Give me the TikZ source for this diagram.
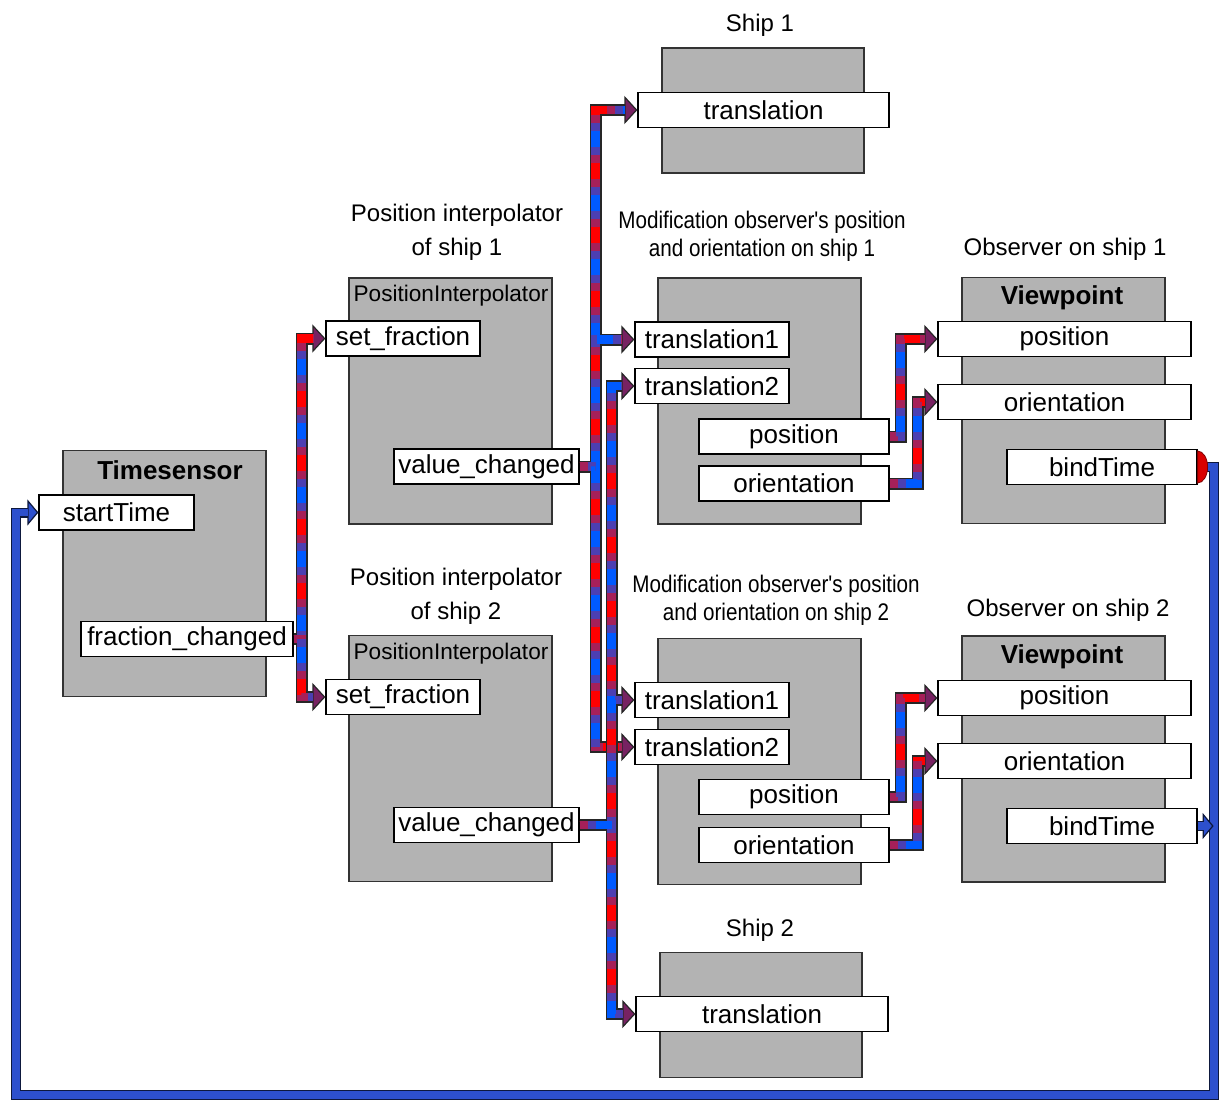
\documentclass[tikz,border=0pt]{standalone}
\usepackage{fontspec}
\setmainfont{Liberation Sans}
\newfontfamily\narrowfont[FakeStretch=0.86]{Liberation Sans}
\usetikzlibrary{arrows.meta}

\definecolor{blockgray}{RGB}{179,179,179}
\definecolor{pipered}{RGB}{255,0,0}
\definecolor{pipeblue}{RGB}{0,90,255}
\definecolor{loopblue}{RGB}{45,80,205}
\colorlet{pipemixA}{pipered!65!pipeblue}
\colorlet{pipemixB}{pipered!30!pipeblue}
\colorlet{pipetip}{pipered!55!pipeblue!85!black}

% fat red/blue pipes: all outlines first, then the striped cores
\newcommand{\flowpipes}[1]{%
  \foreach \p in {#1}{\draw[pipeedge] \p;}%
  \foreach \p in {#1}{%
    \draw[pipecore,draw=pipered] \p;
    \draw[pipecore,draw=pipemixA,dash pattern=on 24pt off 8pt] \p;
    \draw[pipecore,draw=pipemixB,dash pattern=on 16pt off 16pt,dash phase=28pt] \p;
    \draw[pipecore,draw=pipeblue,dash pattern=on 8pt off 24pt,dash phase=24pt] \p;
  }%
}

\begin{document}
\begin{tikzpicture}[x=0.5pt, y=-0.5pt,
    block/.style={draw=black!80, fill=blockgray, line width=0.6pt, inner sep=0pt, minimum width=101.5pt, minimum height=123pt},
    shipblock/.style={block, minimum width=101pt, minimum height=62.5pt},
    field/.style={draw=black, fill=white, line width=0.6pt, inner sep=0pt, minimum height=17.5pt, font={\fontsize{13}{15}\selectfont}},
    title/.style={align=center, inner sep=0pt, font={\fontsize{12}{17}\selectfont}},
    modtitle/.style={align=center, inner sep=0pt, font={\narrowfont\fontsize{12}{14}\selectfont}},
    head/.style={inner sep=0pt, font={\fontsize{11.3}{13}\selectfont}},
    boldhead/.style={inner sep=0pt, font={\bfseries\fontsize{13}{15}\selectfont}},
    pipeedge/.style={draw=black!85, line width=6pt, line join=miter, -{Triangle[length=6.5pt,width=14pt,line width=0.6pt,fill=pipetip]}},
    pipecore/.style={line width=4.4pt, line join=miter, shorten >=6pt},
    loopedge/.style={draw=black!70!loopblue, line width=5pt, line join=miter, -{Triangle[length=5.5pt,width=13pt,line width=0.6pt,fill=loopblue]}},
    loopcore/.style={draw=loopblue, line width=3.6pt, line join=miter, shorten >=5pt}
  ]
  \useasboundingbox (0,0) rectangle (1219,1102);

  %--- gray blocks
  \node[shipblock] (ship1) at (763,110.5) {};
  \node[block] (pi1) at (450.5,401) {};
  \node[block] (mod1) at (759.5,401) {};
  \node[block] (vp1) at (1063.5,400.5) {};
  \node[block] (ts) at (164.5,573.5) {};
  \node[block] (pi2) at (450.5,758.5) {};
  \node[block] (mod2) at (759.5,761.5) {};
  \node[block] (vp2) at (1063.5,759) {};
  \node[shipblock] (ship2) at (761,1015) {};

  %--- titles above the blocks
  \node[title] (ship1t) at (760,25) {Ship 1};
  \node[title] (pi1t) at (457,232) {Position interpolator\\of ship 1};
  \node[modtitle] (mod1t) at (762,236) {Modification observer's position\\and orientation on ship 1};
  \node[title] (vp1t) at (1065,249) {Observer on ship 1};
  \node[title] (pi2t) at (456,596) {Position interpolator\\of ship 2};
  \node[modtitle] (mod2t) at (776,600) {Modification observer's position\\and orientation on ship 2};
  \node[title] (vp2t) at (1068,610) {Observer on ship 2};
  \node[title] (ship2t) at (760,930) {Ship 2};

  %--- block headers
  \node[head] (pi1h) at (451,296) {PositionInterpolator};
  \node[head] (pi2h) at (451,654) {PositionInterpolator};
  \node[boldhead] (tsh) at (170,470) {Timesensor};
  \node[boldhead] (vp1h) at (1062,298) {Viewpoint};
  \node[boldhead] (vp2h) at (1062,657) {Viewpoint};

  %--- fields
  \node[field, minimum width=125.5pt] (s1tr) at (763.5,110) {translation};
  \node[field, minimum width=77pt] (sf1) at (403,338.5) {set\_fraction};
  \node[field, minimum width=92.5pt] (vc1) at (486.5,466.5) {value\_changed};
  \node[field, minimum width=77pt] (m1t1) at (712,339.5) {translation1};
  \node[field, minimum width=77pt] (m1t2) at (712,386) {translation2};
  \node[field, minimum width=95pt] (m1pos) at (794,436.5) {position};
  \node[field, minimum width=95pt] (m1ori) at (794,483.5) {orientation};
  \node[field, minimum width=126.5pt] (v1pos) at (1064.5,339) {position};
  \node[field, minimum width=126.5pt] (v1ori) at (1064.5,402) {orientation};
  \node[field, minimum width=95pt] (v1bt) at (1102,467) {bindTime};
  \node[field, minimum width=77.5pt] (tsst) at (116.5,512.5) {startTime};
  \node[field, minimum width=106pt] (tsfc) at (187,639) {fraction\_changed};
  \node[field, minimum width=77pt] (sf2) at (403,697) {set\_fraction};
  \node[field, minimum width=92.5pt] (vc2) at (486.5,825) {value\_changed};
  \node[field, minimum width=77pt] (m2t1) at (712,700) {translation1};
  \node[field, minimum width=77pt] (m2t2) at (712,747) {translation2};
  \node[field, minimum width=95pt] (m2pos) at (794,797) {position};
  \node[field, minimum width=95pt] (m2ori) at (794,845) {orientation};
  \node[field, minimum width=126.5pt] (v2pos) at (1064.5,698) {position};
  \node[field, minimum width=126.5pt] (v2ori) at (1064.5,761) {orientation};
  \node[field, minimum width=95pt] (v2bt) at (1102,826) {bindTime};
  \node[field, minimum width=126pt] (s2tr) at (762,1014) {translation};

  %--- pipes
  \flowpipes{{(tsfc.east) -- ++(8,0) |- (sf1.west)}, {(tsfc.east) -- ++(8,0) |- (sf2.west)}}
  \flowpipes{{(vc1.east) -- ++(16,0) |- (s1tr.west)}, {(vc1.east) -- ++(16,0) |- (m1t1.west)}, {(vc1.east) -- ++(16,0) |- (m2t2.west)}}
  \flowpipes{{(vc2.east) -- ++(32,0) |- (m1t2.west)}, {(vc2.east) -- ++(32,0) |- (m2t1.west)}, {(vc2.east) -- ++(32,0) |- (s2tr.west)}}
  \flowpipes{{(m1pos.east) -- ++(11,0) |- (v1pos.west)}, {(m1ori.east) -- ++(28,0) |- (v1ori.west)}}
  \flowpipes{{(m2pos.east) -- ++(11,0) |- (v2pos.west)}, {(m2ori.east) -- ++(28,0) |- (v2ori.west)}}

  %--- bindTime loops back to startTime
  \coordinate (loopR) at (1214,1095);
  \coordinate (loopL) at (16,1095);
  \coordinate (bt2end) at ([xshift=8pt]v2bt.east);
  \draw[loopedge] (v1bt.east) -| (loopR) -- (loopL) |- (tsst.west);
  \draw[loopcore] (v1bt.east) -| (loopR) -- (loopL) |- (tsst.west);
  \draw[loopedge] (v2bt.east) -- (bt2end);
  \draw[loopcore] (v2bt.east) -- (bt2end);
  \filldraw[fill=pipered!85!black, draw=pipered!50!black, line width=0.4pt] ([yshift=8pt]v1bt.east) arc[start angle=90, end angle=-90, x radius=5pt, y radius=8pt] -- cycle;
\end{tikzpicture}
\end{document}
